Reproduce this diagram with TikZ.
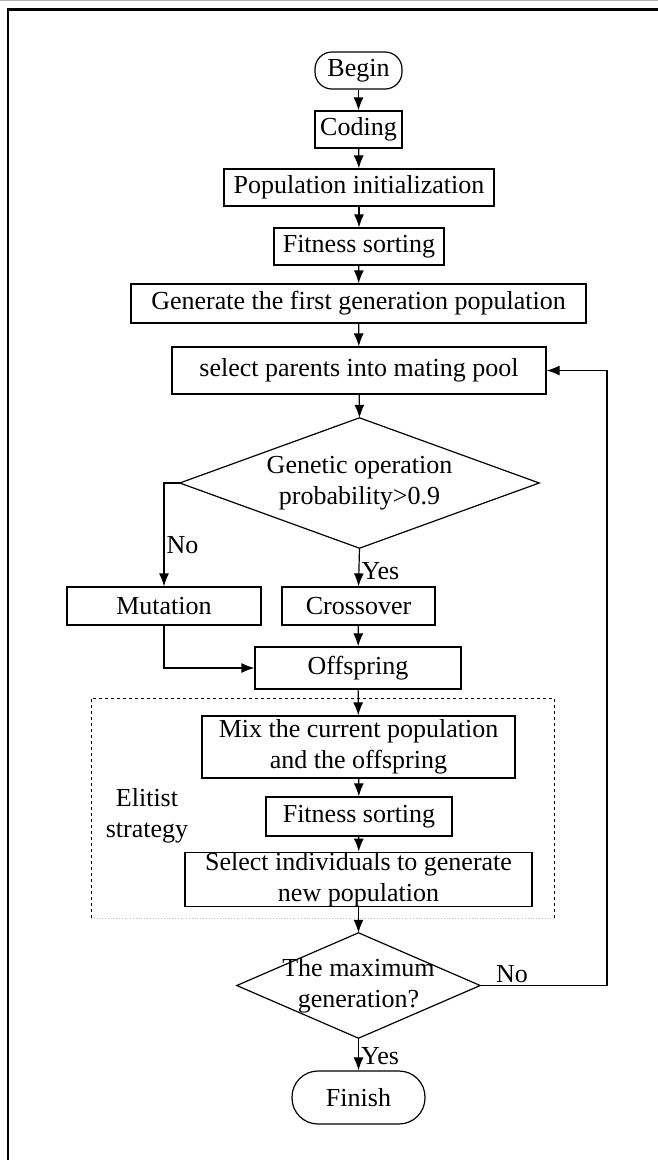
\documentclass[tikz,border=0pt]{standalone}
\usepackage{fontspec}
\setmainfont{Liberation Serif}
\usetikzlibrary{arrows.meta}
\tikzset{>={Latex[length=13pt,width=10pt]}}
\tikzset{
  stepbox/.style={draw, rectangle, line width=1.2pt, inner sep=0pt, align=center},
  termbox/.style={draw, rectangle, rounded corners=17pt, line width=1.2pt, inner sep=0pt},
  choice/.style={rectangle, inner sep=0pt, align=center},
  rim/.style={line width=1.2pt},
  flow/.style={->, line width=1.2pt},
  tag/.style={inner sep=2pt}
}

\begin{document}
\begin{tikzpicture}[x=1pt,y=-1pt]
\fontsize{26}{31}\selectfont
\useasboundingbox (0,0) rectangle (658,1160);
% frame
\draw[gray!60, line width=1pt] (0,0.5) -- (658,0.5);
\draw[line width=2.5pt] (8,1160) -- (8,9.5) -- (658,9.5);
% main column
\node[termbox, minimum width=87pt, minimum height=37pt] (begin) at (358.5,70.5) {Begin};
\node[stepbox, minimum width=87pt, minimum height=37pt] (coding) at (358.5,129.5) {Coding};
\node[stepbox, minimum width=270pt, minimum height=37pt] (init) at (359,187.5) {Population initialization};
\node[stepbox, minimum width=170pt, minimum height=37pt] (fitA) at (359,246.5) {Fitness sorting};
\node[stepbox, minimum width=455pt, minimum height=39pt] (firstgen) at (358.5,303.5) {Generate the first generation population};
\node[stepbox, minimum width=374pt, minimum height=47pt] (select) at (359,370.5) {select parents into mating pool};
\node[choice, minimum width=359pt, minimum height=130pt] (genop) at (359.5,483) {Genetic operation\\probability>0.9};
\draw[rim] (genop.north) -- (genop.east) -- (genop.south) -- (genop.west) -- cycle;
\node[stepbox, minimum width=194pt, minimum height=38pt] (mutation) at (164,606) {Mutation};
\node[stepbox, minimum width=153pt, minimum height=38pt] (crossover) at (358.5,606) {Crossover};
\node[stepbox, minimum width=206pt, minimum height=42pt] (offspring) at (358,668) {Offspring};
% elitist strategy
\draw[dashed, line width=0.8pt] (91,918) -- (91,698) -- (554,698) -- (554,918);
\draw[dotted, gray!50, line width=0.8pt] (91,918) -- (554,918);
\node[align=center] (elitist) at (147,816) {Elitist\\strategy};
\node[stepbox, minimum width=313pt, minimum height=62pt] (mix) at (358.5,747) {Mix the current population\\and the offspring};
\node[stepbox, minimum width=186pt, minimum height=39pt] (fitB) at (359,816.5) {Fitness sorting};
\node[stepbox, minimum width=347pt, minimum height=53pt] (newpop) at (358.5,879.5) {Select individuals to generate\\new population};
\node[choice, minimum width=243pt, minimum height=105pt] (maxgen) at (358.5,985.5) {The maximum\\generation?};
\draw[rim] (maxgen.north) -- (maxgen.east) -- (maxgen.south) -- (maxgen.west) -- cycle;
\node[termbox, rounded corners=26pt, minimum width=133pt, minimum height=53pt] (finish) at (358.5,1097.5) {Finish};
\coordinate (loop) at (607,985.5);
% connectors
\draw[flow] (begin) -- (coding);
\draw[flow] (coding) -- (init);
\draw[flow] (init) -- (fitA);
\draw[flow] (fitA) -- (firstgen);
\draw[flow] (firstgen) -- (select);
\draw[flow] (select) -- (genop.north);
\draw[flow] (genop.west) -| node[tag, pos=0.8, anchor=west] {No} (mutation.north);
\draw[flow] (genop.south) -- node[tag, pos=0.6, anchor=west] {Yes} (crossover.north);
\draw[flow] (mutation.south) |- (offspring.west);
\draw[flow] (crossover) -- (offspring);
\draw[flow] (offspring) -- (mix);
\draw[flow] (mix) -- (fitB);
\draw[flow] (fitB) -- (newpop);
\draw[flow] (newpop) -- (maxgen.north);
\draw[flow] (maxgen.south) -- node[tag, pos=0.55, anchor=west] {Yes} (finish.north);
\draw[flow] (maxgen.east) -- node[tag, pos=0.25, anchor=south] {No} (loop) |- (select.east);
\end{tikzpicture}
\end{document}
